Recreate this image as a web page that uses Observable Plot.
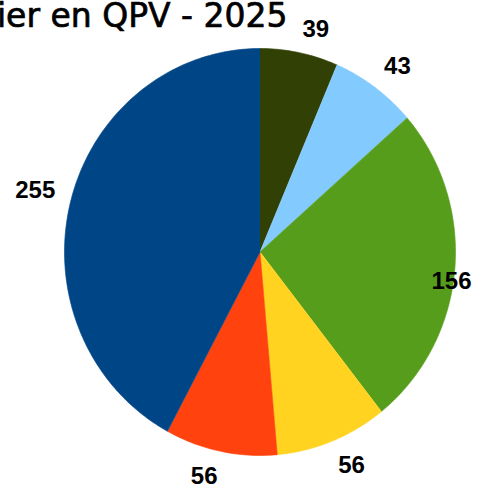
<!DOCTYPE html>
<html>
<head>
<meta charset="utf-8">
<script src="https://cdn.jsdelivr.net/npm/d3@7"></script>
<script src="https://cdn.jsdelivr.net/npm/@observablehq/plot@0.6"></script>
<style>
  html, body { margin: 0; padding: 0; background: #fff; }
  #chart { width: 487px; height: 491px; overflow: hidden; }
</style>
</head>
<body>
<div id="chart"></div>
<script>
// ---- data ----
const titleText = "ier en QPV - 2025";
const categories = ["c1", "c2", "c3", "c4", "c5", "c6"];
const values = [39, 43, 156, 56, 56, 255];
const colors = ["#314004", "#83caff", "#579d1c", "#ffd320", "#ff420e", "#004586"];

// ---- layout ----
const W = 487, H = 491;
const cx = 259.5, cy = 251.5, rx = 195.5, ry = 203.5;
const labelR = 1.08, fontSize = 24, rightLimit = 471;

const arcs = d3.pie().sort(null).value(d => d.value)(
  values.map((v, i) => ({cat: categories[i], value: v}))
);

// polygon points for each slice (normalised unit circle, y up)
const pts = [];
for (const a of arcs) {
  const n = Math.max(2, Math.ceil((a.endAngle - a.startAngle) / (Math.PI * 2) * 360));
  pts.push({cat: a.data.cat, x: 0, y: 0});
  for (let k = 0; k <= n; k++) {
    const t = a.startAngle + (a.endAngle - a.startAngle) * k / n;
    pts.push({cat: a.data.cat, x: Math.sin(t), y: Math.cos(t)});
  }
}

// labels: the box corner nearest the pie sits on the mid-angle ray
const labelData = arcs.map(a => {
  const m = (a.startAngle + a.endAngle) / 2;
  const s = Math.sin(m), c = Math.cos(m);
  let x = labelR * s;
  const y = labelR * c;
  const ta = s > 0.15 ? "start" : s < -0.15 ? "end" : "middle";
  const la = c > 0 ? "bottom" : "top";
  const wNorm = String(a.data.value).length * 0.556 * fontSize / rx;
  const right = x + (ta === "start" ? wNorm : ta === "middle" ? wNorm / 2 : 0);
  const lim = (rightLimit - cx) / rx;
  if (right > lim) x -= right - lim;
  return {x, y, text: String(a.data.value), ta, la};
});

const groups = d3.groups(labelData, d => d.ta + "|" + d.la);

const chart = Plot.plot({
  width: W, height: H,
  margin: 0,
  x: {domain: [-cx / rx, (W - cx) / rx], range: [0, W], axis: null},
  y: {domain: [-(H - cy) / ry, cy / ry], range: [H, 0], axis: null},
  color: {domain: categories, range: colors},
  marks: [
    Plot.line(pts, {x: "x", y: "y", z: "cat", fill: "cat", stroke: "cat", strokeWidth: 0.6}),
    ...groups.map(([k, rows]) => Plot.text(rows, {x: "x", y: "y", text: "text", fontSize,
      fontWeight: "bold", fontFamily: "Liberation Sans, Arial, sans-serif", fill: "#000",
      textAnchor: rows[0].ta, lineAnchor: rows[0].la})),
    Plot.text([titleText], {frameAnchor: "top-left", text: d => d, textAnchor: "end",
      lineAnchor: "top", dx: 287, dy: 3, fontSize: 33, fontWeight: "normal",
      fontFamily: "DejaVu Sans, sans-serif", fill: "#000", stroke: "#000", strokeWidth: 0.7})
  ]
});
document.getElementById("chart").appendChild(chart);
</script>
</body>
</html>
